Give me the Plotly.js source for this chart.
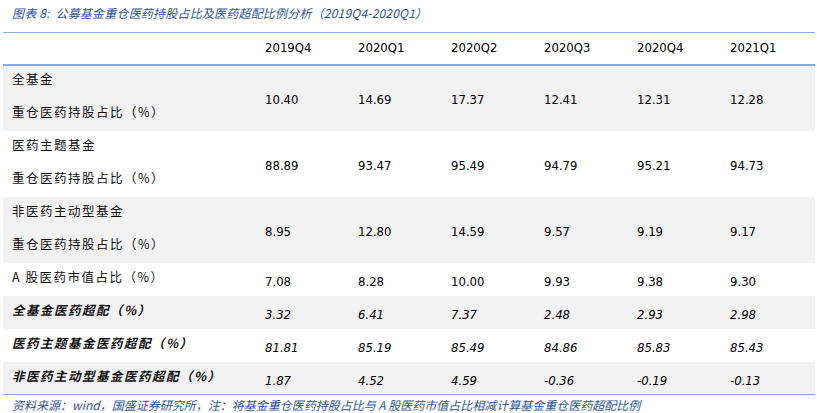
<!DOCTYPE html>
<html><head><meta charset="utf-8">
<script src="https://cdn.plot.ly/plotly-3.0.1.min.js"></script>
<style>html,body{margin:0;padding:0;background:#fff}</style>
</head><body><div id="chart" style="width:817px;height:413px"></div>
<script>
// ---- data ----
const periods = ["2019Q4","2020Q1","2020Q2","2020Q3","2020Q4","2021Q1"];
const rowLabels = [
  ["全基金","重仓医药持股占比（%）"],
  ["医药主题基金","重仓医药持股占比（%）"],
  ["非医药主动型基金","重仓医药持股占比（%）"],
  ["A 股医药市值占比（%）"],
  ["全基金医药超配（%）"],
  ["医药主题基金医药超配（%）"],
  ["非医药主动型基金医药超配（%）"]
];
const allFundHold      = [10.40, 14.69, 17.37, 12.41, 12.31, 12.28];
const themeFundHold    = [88.89, 93.47, 95.49, 94.79, 95.21, 94.73];
const nonMedFundHold   = [8.95, 12.80, 14.59, 9.57, 9.19, 9.17];
const aShareMedWeight  = [7.08, 8.28, 10.00, 9.93, 9.38, 9.30];
const allFundOver      = [3.32, 6.41, 7.37, 2.48, 2.93, 2.98];
const themeFundOver    = [81.81, 85.19, 85.49, 84.86, 85.83, 85.43];
const nonMedFundOver   = [1.87, 4.52, 4.59, -0.36, -0.19, -0.13];
const rowValues = [allFundHold, themeFundHold, nonMedFundHold, aShareMedWeight, allFundOver, themeFundOver, nonMedFundOver];
const emphasisRows = [4,5,6];
const titleText = "图表 8:&nbsp;&nbsp;公募基金重仓医药持股占比及医药超配比例分析（2019Q4-2020Q1）";
const sourceText = "资料来源：wind，国盛证券研究所，注：将基金重仓医药持股占比与 A 股医药市值占比相减计算基金重仓医药超配比例";

// ---- layout ----
const W = 817, H = 413;
const mL = 3, mR = 2, mT = 32, unitPx = 33;
const colStart = 265, colStep = 93, annPad = 2;
const totalUnits = 1 + rowLabels.reduce((s, r) => s + r.length, 0);
const mB = H - mT - totalUnits * unitPx;
const plotW = W - mL - mR;
const x0 = -((colStart - annPad) - mL) / colStep;
const xRange = [x0, x0 + plotW / colStep];

const numFont = "DejaVu Sans Condensed, DejaVu Sans, sans-serif";
const cjkFont = "Noto Sans CJK SC, sans-serif";
const blue = "#2f5597";
const lineColor = "#8eaad6";
const bandColor = "#f2f2f2";

const annotations = [];
const shapes = [];
const labelSpacing = {};   // text -> letter spacing (px)

// header
periods.forEach((p, i) => {
  annotations.push({xref:'x', yref:'y', x:i, y:0.5, yshift:1.5, text:p, showarrow:false,
    xanchor:'left', yanchor:'middle', font:{family:numFont, size:13, color:'#000'}});
});

let yTop = 1;
rowLabels.forEach((lines, r) => {
  const h = lines.length;
  const emph = emphasisRows.includes(r);
  if (r % 2 === 0) {
    shapes.push({type:'rect', layer:'below', xref:'paper', yref:'y', x0:0, x1:1, y0:yTop, y1:yTop + h,
      fillcolor:bandColor, line:{width:0}});
  }
  lines.forEach((t, k) => {
    labelSpacing[t] = emph ? 1.5 : 1.5;
    annotations.push({xref:'paper', yref:'y', x:0, xshift:12 - mL - annPad, y:yTop + k + 0.5, yshift:3,
      text:t, showarrow:false, xanchor:'left', yanchor:'middle',
      font:{family:cjkFont, size:12.5, color:'#111', weight: emph ? 'bold' : 'normal', style: emph ? 'italic' : 'normal'}});
  });
  rowValues[r].forEach((v, i) => {
    annotations.push({xref:'x', yref:'y', x:i, y:yTop + h / 2, yshift:-1.5, text:v.toFixed(2), showarrow:false,
      xanchor:'left', yanchor:'middle',
      font:{family:numFont, size:13, color:'#000', style: emph ? 'italic' : 'normal'}});
  });
  yTop += h;
});
labelSpacing["图表 8:  公募基金重仓医药持股占比及医药超配比例分析（2019Q4-2020Q1）"] = 0.2;
labelSpacing["图表 8:\u00a0\u00a0公募基金重仓医药持股占比及医药超配比例分析（2019Q4-2020Q1）"] = 0.2;

[0, 1, totalUnits].forEach(y => {
  shapes.push({type:'line', xref:'paper', yref:'y', x0:0, x1:1, y0:y, y1:y, line:{color:lineColor, width:2}});
});

annotations.push({xref:'paper', yref:'paper', x:0, y:1, xshift:12 - mL - annPad, yshift:20, text:titleText,
  showarrow:false, xanchor:'left', yanchor:'middle', font:{family:cjkFont, size:12, color:blue, style:'italic'}});
annotations.push({xref:'paper', yref:'paper', x:0, y:0, xshift:12 - mL - annPad, yshift:-9, text:sourceText,
  showarrow:false, xanchor:'left', yanchor:'middle', font:{family:cjkFont, size:12, color:blue, style:'italic'}});

const layout = {
  width: W, height: H,
  margin: {l:mL, r:mR, t:mT, b:mB, pad:0},
  paper_bgcolor:'#fff', plot_bgcolor:'#fff',
  showlegend:false,
  xaxis:{range:xRange, visible:false, fixedrange:true},
  yaxis:{range:[totalUnits, 0], visible:false, fixedrange:true},
  shapes, annotations
};
Plotly.newPlot('chart', [{type:'scatter', x:[], y:[], hoverinfo:'skip'}], layout, {staticPlot:true, displayModeBar:false})
  .then(() => {
    document.querySelectorAll('#chart .annotation-text').forEach(t => {
      const s = labelSpacing[t.textContent];
      if (!s) return;
      const left0 = t.getBBox().x;
      t.style.letterSpacing = s + 'px';
      const left1 = t.getBBox().x;
      const xa = parseFloat(t.getAttribute('x')) || 0;
      t.setAttribute('x', xa + (left0 - left1));
    });
  });
</script></body></html>
